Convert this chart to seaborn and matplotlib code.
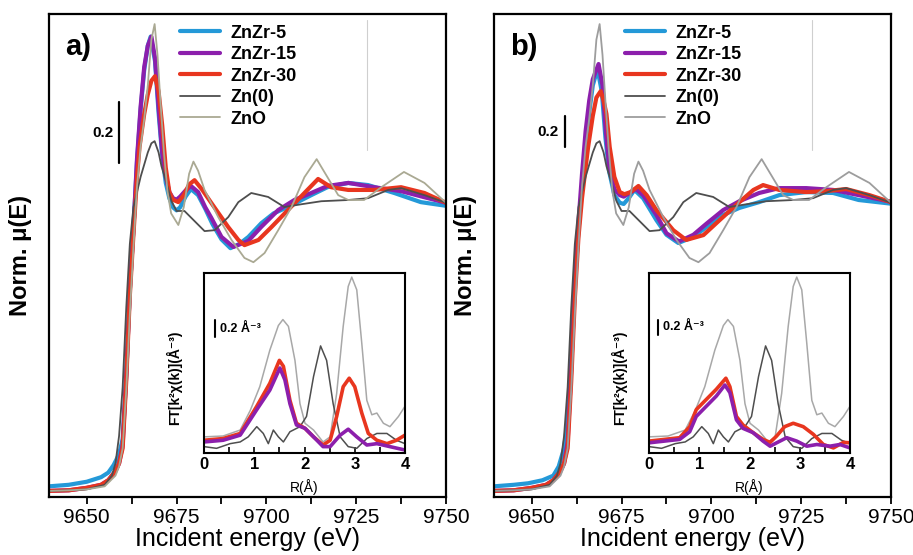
import matplotlib
matplotlib.use("Agg")
import matplotlib.pyplot as plt
from matplotlib.ticker import MultipleLocator
import seaborn as sns

# ---------------- XANES data (normalised mu(E)) ----------------
E_a5 = [9639.5, 9645, 9650, 9654, 9656, 9657.5, 9659, 9660, 9661, 9662, 9663, 9664, 9665, 9666, 9667, 9667.8,
        9669, 9670, 9671, 9672, 9673, 9674, 9675, 9676, 9677.5, 9679, 9681, 9683, 9685, 9687.5, 9690, 9692.5,
        9695, 9698.6, 9702, 9706, 9712.5, 9717, 9722.8, 9728.3, 9735.6, 9743, 9750]
mu_a5 = [0.035, 0.04, 0.05, 0.065, 0.08, 0.105, 0.14, 0.19, 0.40, 0.68, 0.88, 1.10, 1.27, 1.40, 1.48, 1.51,
         1.43, 1.26, 1.12, 1.03, 0.98, 0.95, 0.94, 0.95, 0.985, 1.01, 0.99, 0.945, 0.895, 0.845, 0.816, 0.83,
         0.853, 0.898, 0.93, 0.951, 0.99, 1.016, 1.03, 1.023, 0.997, 0.967, 0.955]

E_a15 = [9639.5, 9645, 9650, 9654, 9656, 9658, 9659, 9660, 9661, 9662, 9663, 9664, 9665, 9666, 9667, 9668,
         9669, 9670, 9671, 9672, 9673, 9674, 9675, 9676, 9677.5, 9679, 9681, 9683, 9684.7, 9687.5, 9690.8,
         9695, 9698.6, 9703.3, 9707.8, 9712.5, 9717, 9722.8, 9730, 9737.5, 9745, 9750]
mu_a15 = [0.02, 0.022, 0.03, 0.04, 0.055, 0.085, 0.11, 0.17, 0.40, 0.68, 0.88, 1.11, 1.28, 1.41, 1.48, 1.51,
          1.44, 1.28, 1.13, 1.05, 1.0, 0.98, 0.975, 0.985, 1.005, 1.02, 1.0, 0.95, 0.915, 0.853, 0.82,
          0.84, 0.886, 0.941, 0.974, 0.997, 1.02, 1.03, 1.016, 1.003, 0.98, 0.965]

E_a30 = [9639.5, 9645, 9650, 9654, 9656, 9658, 9659, 9660, 9661, 9662, 9663, 9664, 9664.7, 9666, 9667, 9668,
         9669, 9670, 9671, 9672, 9673, 9674, 9675.5, 9677, 9678.5, 9680, 9682, 9684.7, 9689.4, 9692.2, 9693.9,
         9697.8, 9701.4, 9706, 9710.6, 9714.4, 9718, 9722.8, 9730, 9737.5, 9744, 9750]
mu_a30 = [0.02, 0.022, 0.03, 0.04, 0.055, 0.085, 0.11, 0.16, 0.38, 0.66, 0.86, 1.05, 1.148, 1.256, 1.32, 1.365,
          1.38, 1.33, 1.22, 1.08, 1.0, 0.975, 0.967, 0.99, 1.025, 1.039, 1.01, 0.964, 0.885, 0.843, 0.826,
          0.843, 0.885, 0.941, 0.997, 1.043, 1.016, 1.007, 1.007, 1.016, 0.997, 0.965]

E_b5 = [9639.5, 9645, 9649, 9653, 9656, 9657.5, 9659, 9660, 9661, 9662, 9663, 9664, 9665, 9666, 9667, 9668.3,
        9669.5, 9670.5, 9671.5, 9673, 9674.5, 9675.6, 9677, 9678.6, 9681, 9684.7, 9687.5, 9690.8, 9695, 9698.6,
        9703.3, 9707.8, 9713.3, 9718.9, 9726.4, 9733.9, 9741, 9750]
mu_b5 = [0.035, 0.04, 0.045, 0.055, 0.07, 0.1, 0.16, 0.25, 0.45, 0.70, 0.87, 1.02, 1.15, 1.26, 1.35, 1.403,
         1.33, 1.18, 1.07, 0.99, 0.965, 0.961, 0.98, 1.007, 0.98, 0.908, 0.86, 0.833, 0.853, 0.885,
         0.925, 0.948, 0.967, 0.99, 1.0, 0.997, 0.974, 0.962]

E_b15 = [9639.5, 9645, 9650, 9654, 9656, 9658, 9659, 9660, 9661, 9662, 9663, 9664, 9665, 9666, 9667, 9668.6,
         9669.7, 9670.6, 9671.6, 9673, 9674.5, 9675.6, 9677, 9679, 9681, 9684.7, 9687.5, 9691, 9695, 9698.6,
         9703.3, 9707.8, 9713.3, 9718.9, 9726.4, 9733.9, 9741, 9750]
mu_b15 = [0.02, 0.022, 0.03, 0.04, 0.055, 0.085, 0.11, 0.18, 0.42, 0.70, 0.90, 1.06, 1.20, 1.30, 1.37, 1.42,
          1.35, 1.20, 1.08, 1.01, 0.99, 0.985, 0.995, 1.01, 0.99, 0.925, 0.865, 0.838, 0.86, 0.896,
          0.941, 0.97, 0.997, 1.013, 1.013, 1.007, 0.99, 0.968]

E_b30 = [9639.5, 9645, 9650, 9654, 9656, 9658, 9659, 9660, 9661, 9662, 9663, 9664, 9665, 9665.7, 9667, 9668,
         9669.2, 9670, 9670.8, 9671.7, 9673, 9674.5, 9675.8, 9677.5, 9679.7, 9682, 9684.7, 9689.4, 9693, 9697.8,
         9702.3, 9707.8, 9711.7, 9714.4, 9718.9, 9726.4, 9732, 9737.5, 9744, 9750]
mu_b30 = [0.02, 0.022, 0.03, 0.04, 0.055, 0.085, 0.11, 0.16, 0.38, 0.65, 0.85, 0.98, 1.08, 1.148, 1.25, 1.31,
          1.331, 1.30, 1.256, 1.148, 1.05, 1.0, 0.993, 1.0, 1.02, 0.99, 0.941, 0.875, 0.843, 0.859,
          0.908, 0.967, 1.007, 1.023, 1.007, 1.0, 1.003, 1.01, 0.99, 0.967]

# reference spectra (same in both panels)
E_zn0 = [9639.5, 9645, 9650, 9655, 9657, 9658, 9659, 9660, 9661, 9662, 9663, 9664, 9665, 9666, 9667, 9668,
         9668.9, 9670, 9670.8, 9672.2, 9673.6, 9675, 9677.2, 9680, 9682.8, 9685.6, 9689.4, 9692.2, 9695.8,
         9700.5, 9705, 9709.7, 9715.3, 9722.8, 9728.3, 9733.9, 9737.5, 9744, 9750]
mu_zn0 = [0.02, 0.022, 0.025, 0.04, 0.07, 0.11, 0.2, 0.36, 0.62, 0.83, 0.95, 1.0, 1.05, 1.09, 1.13, 1.16,
          1.167, 1.13, 1.085, 1.03, 0.97, 0.938, 0.938, 0.905, 0.872, 0.875, 0.918, 0.967, 0.997,
          0.984, 0.951, 0.96, 0.97, 0.974, 0.98, 1.007, 1.013, 0.99, 0.965]

E_zno = [9639.5, 9645, 9650, 9655, 9658, 9659, 9660, 9661, 9662, 9663, 9664, 9665, 9666, 9667, 9668, 9668.9,
         9669.7, 9670.5, 9671.5, 9672.5, 9673.5, 9675.5, 9677, 9678.5, 9679.7, 9681, 9682.8, 9686.6, 9690.3,
         9693.9, 9696.4, 9699.5, 9703.3, 9707, 9710.6, 9714, 9717, 9720, 9722.8, 9727.2, 9732, 9738.3, 9744, 9750]
mu_zno = [0.02, 0.022, 0.025, 0.035, 0.07, 0.1, 0.16, 0.35, 0.6, 0.82, 1.02, 1.15, 1.24, 1.35, 1.50, 1.551,
          1.45, 1.30, 1.13, 1.0, 0.93, 0.892, 0.95, 1.06, 1.10, 1.07, 1.007, 0.918, 0.843,
          0.784, 0.77, 0.80, 0.875, 0.951, 1.049, 1.108, 1.049, 0.99, 0.974, 0.974, 1.016, 1.066, 1.03, 0.965]

# ---------------- FT-EXAFS inset data ----------------
R_zno = [0, 0.38, 0.72, 0.92, 1.11, 1.31, 1.48, 1.57, 1.68, 1.81, 1.91, 2.01, 2.18, 2.37, 2.51, 2.64, 2.77,
         2.87, 2.94, 3.04, 3.14, 3.24, 3.34, 3.44, 3.57, 3.70, 3.87, 4.0]
ft_zno = [0.19, 0.2, 0.27, 0.5, 0.78, 1.21, 1.5, 1.57, 1.49, 1.09, 0.58, 0.35, 0.27, 0.13, 0.19, 0.70, 1.49,
          1.96, 2.07, 1.92, 1.29, 0.62, 0.45, 0.47, 0.35, 0.31, 0.43, 0.55]
R_zn0 = [0, 0.25, 0.52, 0.72, 0.88, 1.05, 1.18, 1.28, 1.38, 1.48, 1.58, 1.71, 1.91, 2.04, 2.18, 2.32, 2.44,
         2.57, 2.71, 2.87, 3.04, 3.24, 3.44, 3.64, 3.83, 4.0]
ft_zn0 = [0.075, 0.055, 0.11, 0.13, 0.19, 0.31, 0.23, 0.11, 0.27, 0.19, 0.13, 0.25, 0.31, 0.43, 0.90, 1.26,
          1.09, 0.58, 0.19, 0.075, 0.055, 0.17, 0.23, 0.23, 0.15, 0.11]
R_a30 = [0, 0.38, 0.72, 1.05, 1.31, 1.50, 1.58, 1.71, 1.84, 2.01, 2.18, 2.37, 2.51, 2.64, 2.77, 2.89, 3.0,
         3.14, 3.27, 3.44, 3.64, 3.83, 4.0]
ft_a30 = [0.15, 0.17, 0.23, 0.55, 0.82, 1.09, 1.02, 0.62, 0.35, 0.29, 0.19, 0.094, 0.15, 0.43, 0.78, 0.88,
          0.78, 0.47, 0.23, 0.15, 0.11, 0.15, 0.21]
R_a15 = [0, 0.38, 0.72, 1.05, 1.31, 1.51, 1.61, 1.71, 1.84, 2.01, 2.18, 2.37, 2.51, 2.71, 2.87, 3.04, 3.24,
         3.44, 3.70, 4.0]
ft_a15 = [0.13, 0.15, 0.21, 0.51, 0.74, 1.0, 0.86, 0.58, 0.33, 0.29, 0.19, 0.075, 0.075, 0.21, 0.28, 0.19,
          0.094, 0.11, 0.075, 0.035]
R_b30 = [0, 0.61, 0.81, 0.94, 1.14, 1.34, 1.53, 1.61, 1.74, 1.87, 2.07, 2.27, 2.41, 2.54, 2.70, 2.87, 3.07,
         3.27, 3.47, 3.67, 3.87, 4.0]
ft_b30 = [0.14, 0.18, 0.31, 0.51, 0.63, 0.75, 0.88, 0.78, 0.43, 0.33, 0.24, 0.16, 0.125, 0.2, 0.31, 0.35,
          0.31, 0.22, 0.1, 0.06, 0.125, 0.12]
R_b15 = [0, 0.61, 0.81, 0.94, 1.14, 1.34, 1.51, 1.61, 1.74, 1.87, 2.07, 2.27, 2.41, 2.54, 2.74, 2.94, 3.14,
         3.34, 3.60, 3.80, 4.0]
ft_b15 = [0.12, 0.16, 0.25, 0.43, 0.55, 0.67, 0.80, 0.71, 0.39, 0.29, 0.24, 0.14, 0.08, 0.12, 0.18, 0.14,
          0.08, 0.1, 0.08, 0.1, 0.06]

labels = ["ZnZr-5", "ZnZr-15", "ZnZr-30", "Zn(0)", "ZnO"]
x_ticks = [9650, 9675, 9700, 9725, 9750]
r_ticks = [0, 1, 2, 3, 4]
scalebar_a = [1.095, 1.295]
scalebar_b = [1.148, 1.249]
ft_bar_a = [1.365, 1.565]
ft_bar_b = [1.39, 1.565]

# ---------------- style ----------------
sns.set_style("ticks")
plt.rcParams["font.family"] = ["Liberation Sans", "DejaVu Sans"]
for k in ("text.color", "axes.labelcolor", "xtick.color", "ytick.color", "axes.edgecolor"):
    plt.rcParams[k] = "black"
FONT = ["Liberation Sans", "DejaVu Sans"]

C_BLUE, C_PURP, C_RED, C_ZN0 = "#2499d8", "#8c1fac", "#e8361f", "#4e4e4e"

fig = plt.figure(figsize=(9.13, 5.55), dpi=100)
W, H = 913.0, 555.0


def fax(l, t, r, b):
    return fig.add_axes([l / W, 1 - b / H, (r - l) / W, (b - t) / H])


ax_a = fax(49, 14, 446, 497)
ax_b = fax(494, 14, 891, 497)
in_a = fax(204, 273, 405, 453)
in_b = fax(649, 273, 850, 453)


def main_panel(ax, curves, tag, bar, bar_E, txt_E):
    for E, mu, lab, col, lw in curves:
        sns.lineplot(x=E, y=mu, ax=ax, color=col, lw=lw, label=lab, sort=False, estimator=None)
    ax.set_xlim(9639.5, 9750)
    ax.set_ylim(0, 1.584)
    ax.set_xticks(x_ticks)
    ax.xaxis.set_minor_locator(MultipleLocator(12.5))
    ax.set_yticks([])
    ax.tick_params(axis="x", which="both", direction="out", length=5, width=1.3, labelsize=15, pad=3)
    for s in ax.spines.values():
        s.set_linewidth(1.6)
    ax.set_xlabel("Incident energy (eV)", fontsize=18)
    ax.xaxis.set_label_coords(0.5, -0.062)
    ax.set_ylabel("Norm. \u03bc(E)", fontsize=17, fontweight="bold")
    ax.yaxis.set_label_coords(-0.043, 0.5)
    ax.text(0.04, 0.932, tag, transform=ax.transAxes, fontsize=21, fontweight="bold", va="center",
            ha="left")
    ax.plot([bar_E, bar_E], bar, color="black", lw=1.6)
    ax.text(txt_E, sum(bar) / 2, "0.2", ha="right", va="center", fontsize=11, fontweight="bold")
    ax.axvline(9728, ymin=0.718, ymax=0.988, color="#cfcfcf", lw=0.8)
    ax.legend(loc="upper left", bbox_to_anchor=(0.331, 0.978), frameon=False, borderpad=0,
              borderaxespad=0, handlelength=2.2, handletextpad=0.55, labelspacing=0.25,
              prop={"family": FONT, "weight": "bold", "size": 13})


def inset(ax, curves, bar_R, bar, txt_R):
    for R, v, col, lw in curves:
        sns.lineplot(x=R, y=v, ax=ax, color=col, lw=lw, sort=False, estimator=None)
    ax.set_xlim(0, 4)
    ax.set_ylim(0, 2.118)
    ax.set_xticks(r_ticks)
    ax.xaxis.set_minor_locator(MultipleLocator(0.5))
    ax.set_yticks([])
    ax.tick_params(axis="x", which="both", direction="in", length=4, width=1.2, labelsize=12, pad=3)
    for t in ax.get_xticklabels():
        t.set_fontweight("bold")
    for s in ax.spines.values():
        s.set_linewidth(1.5)
    ax.set_xlabel("R(\u00c5)", fontsize=10)
    ax.xaxis.set_label_coords(0.5, -0.145)
    ax.set_ylabel("FT[k\u00b2\u03c7(k)](\u00c5\u207b\u00b3)", fontsize=10, fontweight="bold")
    ax.yaxis.set_label_coords(-0.11, 0.42)
    ax.plot([bar_R, bar_R], bar, color="black", lw=1.5)
    ax.text(txt_R, sum(bar) / 2, "0.2 \u00c5\u207b\u00b3", ha="left", va="center", fontsize=9,
            fontweight="bold")


main_panel(ax_a, [(E_a5, mu_a5, labels[0], C_BLUE, 3.0),
                  (E_a15, mu_a15, labels[1], C_PURP, 3.0),
                  (E_a30, mu_a30, labels[2], C_RED, 3.0),
                  (E_zn0, mu_zn0, labels[3], C_ZN0, 1.3),
                  (E_zno, mu_zno, labels[4], "#aaa993", 1.3)],
           "a)", scalebar_a, 9658.9, 9657.4)
main_panel(ax_b, [(E_b5, mu_b5, labels[0], C_BLUE, 3.0),
                  (E_b15, mu_b15, labels[1], C_PURP, 3.0),
                  (E_b30, mu_b30, labels[2], C_RED, 3.0),
                  (E_zn0, mu_zn0, labels[3], C_ZN0, 1.3),
                  (E_zno, mu_zno, labels[4], "#9d9d9d", 1.3)],
           "b)", scalebar_b, 9659.2, 9657.4)

inset(in_a, [(R_zno, ft_zno, "#a8a8a8", 1.1), (R_zn0, ft_zn0, C_ZN0, 1.1),
             (R_a30, ft_a30, C_RED, 2.6), (R_a15, ft_a15, C_PURP, 2.6)],
      0.22, ft_bar_a, 0.32)
inset(in_b, [(R_zno, ft_zno, "#a8a8a8", 1.1), (R_zn0, ft_zn0, C_ZN0, 1.1),
             (R_b30, ft_b30, C_RED, 2.6), (R_b15, ft_b15, C_PURP, 2.6)],
      0.18, ft_bar_b, 0.28)

fig.savefig("out.png", dpi=100)
